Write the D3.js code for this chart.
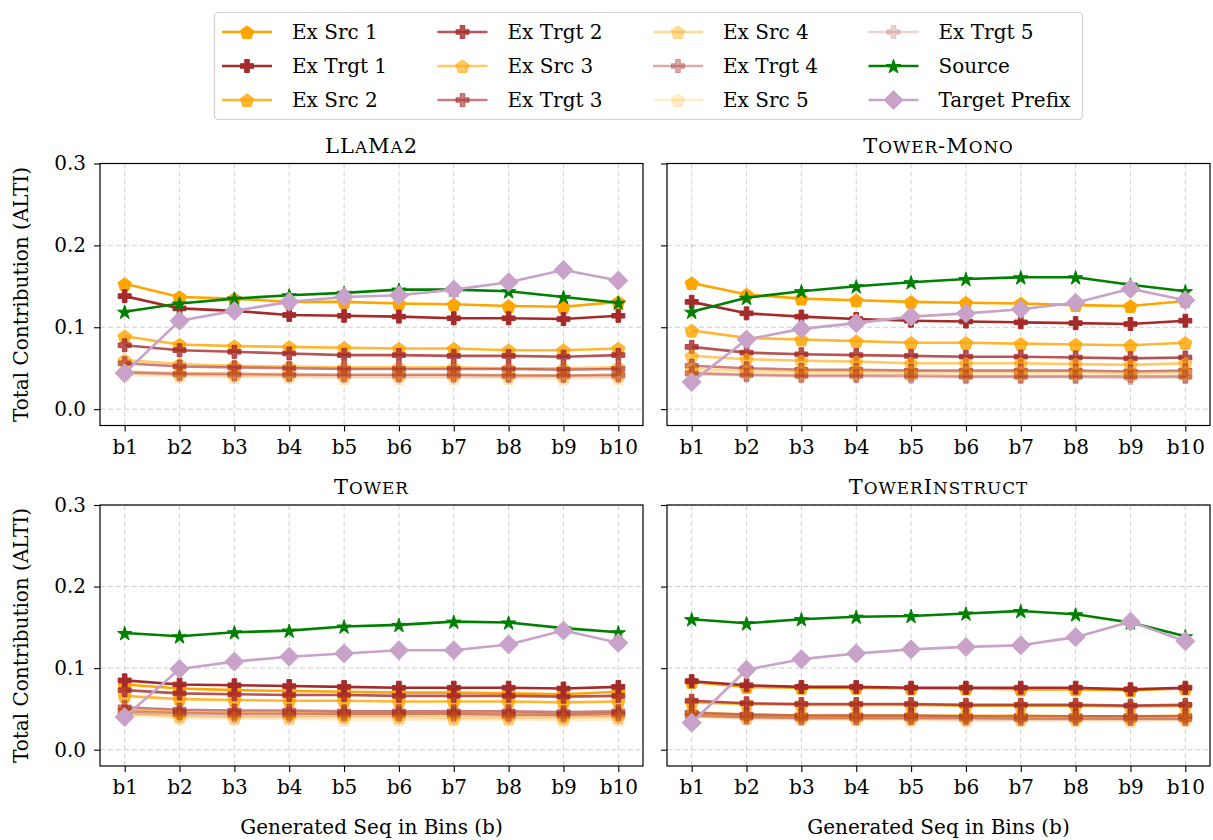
<!DOCTYPE html>
<html><head><meta charset="utf-8">
<script src="https://cdn.jsdelivr.net/npm/d3@7"></script>
<style>
html,body{margin:0;padding:0;background:#fff;}
svg text{font-family:"DejaVu Serif",serif;fill:#000;}
</style></head>
<body><svg id="c" width="1213" height="840"></svg>
<script>
const bins = ["b1","b2","b3","b4","b5","b6","b7","b8","b9","b10"];
const panelTitles = ["LLaMa2","Tower-Mono","Tower","TowerInstruct"];
const yTicks = [0.0, 0.1, 0.2, 0.3];
const seriesNames = ["Ex Src 1","Ex Trgt 1","Ex Src 2","Ex Trgt 2","Ex Src 3","Ex Trgt 3","Ex Src 4","Ex Trgt 4","Ex Src 5","Ex Trgt 5","Source","Target Prefix"];
// each array: [LLaMA2, Tower-Mono, Tower, TowerInstruct]
const exSrc1 = [
 [0.153,0.137,0.135,0.131,0.131,0.129,0.128,0.126,0.125,0.131],
 [0.154,0.140,0.135,0.133,0.131,0.130,0.129,0.127,0.126,0.132],
 [0.080,0.075,0.073,0.072,0.071,0.070,0.070,0.069,0.068,0.071],
 [0.083,0.077,0.076,0.076,0.075,0.075,0.074,0.074,0.073,0.075]];
const exTrgt1 = [
 [0.138,0.123,0.120,0.115,0.114,0.113,0.111,0.111,0.110,0.114],
 [0.131,0.117,0.113,0.110,0.108,0.107,0.106,0.105,0.104,0.108],
 [0.085,0.080,0.079,0.078,0.077,0.076,0.076,0.076,0.075,0.077],
 [0.084,0.079,0.077,0.077,0.076,0.076,0.076,0.076,0.074,0.076]];
const exSrc2 = [
 [0.089,0.079,0.077,0.076,0.075,0.074,0.074,0.072,0.072,0.074],
 [0.096,0.087,0.085,0.083,0.081,0.081,0.080,0.079,0.078,0.081],
 [0.066,0.062,0.061,0.060,0.060,0.059,0.059,0.059,0.058,0.059],
 [0.058,0.056,0.055,0.055,0.055,0.054,0.054,0.054,0.053,0.054]];
const exTrgt2 = [
 [0.078,0.072,0.070,0.068,0.066,0.066,0.065,0.065,0.064,0.066],
 [0.076,0.069,0.067,0.066,0.065,0.064,0.064,0.063,0.062,0.063],
 [0.073,0.069,0.068,0.067,0.067,0.066,0.066,0.066,0.065,0.066],
 [0.060,0.057,0.056,0.056,0.056,0.055,0.055,0.055,0.054,0.055]];
const exSrc3 = [
 [0.060,0.055,0.053,0.052,0.051,0.051,0.051,0.050,0.050,0.051],
 [0.065,0.061,0.059,0.058,0.056,0.056,0.056,0.055,0.054,0.056],
 [0.049,0.046,0.045,0.045,0.044,0.044,0.044,0.044,0.043,0.044],
 [0.046,0.043,0.042,0.042,0.042,0.042,0.042,0.041,0.041,0.042]];
const exTrgt3 = [
 [0.056,0.052,0.051,0.050,0.049,0.049,0.049,0.049,0.048,0.049],
 [0.053,0.050,0.048,0.048,0.047,0.047,0.047,0.047,0.046,0.047],
 [0.052,0.049,0.048,0.048,0.047,0.047,0.047,0.047,0.046,0.047],
 [0.045,0.043,0.042,0.042,0.042,0.041,0.041,0.041,0.041,0.041]];
const exSrc4 = [
 [0.046,0.044,0.043,0.043,0.042,0.042,0.042,0.042,0.041,0.042],
 [0.049,0.047,0.046,0.046,0.045,0.045,0.045,0.045,0.044,0.045],
 [0.044,0.041,0.040,0.040,0.040,0.040,0.039,0.039,0.039,0.040],
 [0.043,0.040,0.040,0.039,0.039,0.039,0.039,0.039,0.038,0.039]];
const exTrgt4 = [
 [0.045,0.043,0.043,0.042,0.042,0.042,0.042,0.041,0.041,0.042],
 [0.044,0.042,0.041,0.041,0.041,0.040,0.040,0.040,0.040,0.040],
 [0.047,0.045,0.044,0.044,0.044,0.044,0.044,0.043,0.043,0.044],
 [0.042,0.040,0.039,0.039,0.039,0.039,0.038,0.038,0.038,0.038]];
const exSrc5 = [
 [0.042,0.040,0.039,0.039,0.038,0.038,0.038,0.038,0.037,0.038],
 [0.046,0.044,0.043,0.043,0.042,0.042,0.042,0.042,0.041,0.042],
 [0.043,0.039,0.038,0.038,0.037,0.037,0.037,0.037,0.036,0.037],
 [0.040,0.038,0.037,0.037,0.036,0.036,0.036,0.036,0.035,0.036]];
const exTrgt5 = [
 [0.044,0.042,0.041,0.041,0.040,0.040,0.040,0.040,0.040,0.040],
 [0.043,0.041,0.040,0.040,0.039,0.039,0.039,0.039,0.038,0.039],
 [0.045,0.043,0.042,0.042,0.042,0.042,0.042,0.041,0.041,0.042],
 [0.041,0.039,0.038,0.038,0.038,0.037,0.037,0.037,0.037,0.037]];
const source = [
 [0.119,0.129,0.135,0.139,0.142,0.146,0.146,0.144,0.137,0.130],
 [0.119,0.136,0.144,0.150,0.155,0.159,0.161,0.161,0.152,0.144],
 [0.143,0.139,0.144,0.146,0.151,0.153,0.157,0.156,0.149,0.144],
 [0.160,0.155,0.160,0.163,0.164,0.167,0.170,0.166,0.156,0.139]];
const targetPrefix = [
 [0.044,0.108,0.120,0.131,0.137,0.139,0.146,0.155,0.170,0.157],
 [0.033,0.085,0.098,0.105,0.113,0.117,0.122,0.130,0.147,0.133],
 [0.040,0.099,0.108,0.114,0.118,0.122,0.122,0.129,0.146,0.131],
 [0.033,0.098,0.111,0.118,0.123,0.126,0.128,0.138,0.157,0.133]];

const seriesData = [exSrc1,exTrgt1,exSrc2,exTrgt2,exSrc3,exTrgt3,exSrc4,exTrgt4,exSrc5,exTrgt5,source,targetPrefix];
const ORANGE="#ffa500", BROWN="#a52a2a", GREEN="#008000", LILAC="#c8a2c8";
const alphas=[1,0.8,0.6,0.4,0.2];
const styles = seriesNames.map((n,i)=>{
  if(i<10){const k=Math.floor(i/2);const src=i%2===0;
    return {color:src?ORANGE:BROWN, alpha:alphas[k], marker:src?"pentagon":"plus"};}
  if(i===10) return {color:GREEN,alpha:1,marker:"star"};
  return {color:LILAC,alpha:1,marker:"diamond"};
});

function markerPath(type){
  if(type==="pentagon"){const r=7;const pts=d3.range(5).map(k=>{const a=-Math.PI/2+k*2*Math.PI/5;return [r*Math.cos(a),r*Math.sin(a)+0.8];});
    return "M"+pts.map(p=>p.join(",")).join("L")+"Z";}
  if(type==="plus"){const a=6.5,b=2.3;
    return `M${-b},${-a}L${b},${-a}L${b},${-b}L${a},${-b}L${a},${b}L${b},${b}L${b},${a}L${-b},${a}L${-b},${b}L${-a},${b}L${-a},${-b}L${-b},${-b}Z`;}
  if(type==="star"){const R=7.5,r=R*0.382;const pts=d3.range(10).map(k=>{const a=-Math.PI/2+k*Math.PI/5;const rr=k%2?r:R;return [rr*Math.cos(a),rr*Math.sin(a)+0.8];});
    return "M"+pts.map(p=>p.join(",")).join("L")+"Z";}
  const d=9.5; return `M0,${-d}L${d},0L0,${d}L${-d},0Z`;
}

// manual small caps: group consecutive chars by case
function smallCaps(textSel, str, big, small){
  const runs=[];
  for(const ch of str){
    const low = ch!==ch.toUpperCase();
    if(runs.length && runs[runs.length-1].low===low) runs[runs.length-1].s+=ch;
    else runs.push({low, s:ch});
  }
  runs.forEach(r=>textSel.append("tspan").attr("font-size",r.low?small:big).text(r.s.toUpperCase()));
}

const svg=d3.select("#c");
const cols=[[100,643],[667,1210]];
const rows=[[425.5,163.5],[766,505]];
const FS=20;
const FONT="DejaVu Serif";

[0,1,2,3].forEach(p=>{
  const c=cols[p%2], r=rows[Math.floor(p/2)];
  const x=d3.scaleLinear().domain([-0.45,9.45]).range(c);
  const y=d3.scaleLinear().domain([-0.02,0.3]).range(r);
  const g=svg.append("g");
  g.append("g").selectAll("line").data(d3.range(10)).join("line")
    .attr("x1",d=>x(d)).attr("x2",d=>x(d)).attr("y1",r[1]).attr("y2",r[0])
    .attr("stroke","#b0b0b0").attr("stroke-opacity",0.6).attr("stroke-width",1).attr("stroke-dasharray","5,3");
  g.append("g").selectAll("line").data(yTicks).join("line")
    .attr("x1",c[0]).attr("x2",c[1]).attr("y1",d=>y(d)).attr("y2",d=>y(d))
    .attr("stroke","#b0b0b0").attr("stroke-opacity",0.6).attr("stroke-width",1).attr("stroke-dasharray","5,3");
  const xa=g.append("g").attr("transform",`translate(0,${r[0]})`)
    .call(d3.axisBottom(x).tickValues(d3.range(10)).tickFormat(i=>bins[i]).tickSize(6).tickPadding(8));
  const ya=g.append("g").attr("transform",`translate(${c[0]},0)`)
    .call(d3.axisLeft(y).tickValues(yTicks).tickFormat(p%2===0?d3.format(".1f"):()=>"").tickSize(6).tickPadding(8));
  [xa,ya].forEach(a=>{a.select(".domain").remove();a.selectAll("line").attr("stroke","#000").attr("stroke-width",1.1);
    a.selectAll("text").attr("font-size",FS).attr("font-family",FONT);});
  xa.selectAll("text").attr("dy","0.72em");
  const clip="clip"+p;
  svg.append("clipPath").attr("id",clip).append("rect").attr("x",c[0]).attr("y",r[1]).attr("width",c[1]-c[0]).attr("height",r[0]-r[1]);
  const pg=g.append("g").attr("clip-path",`url(#${clip})`);
  const line=d3.line().x((d,i)=>x(i)).y(d=>y(d));
  seriesData.forEach((arr,si)=>{
    const st=styles[si], vals=arr[p];
    pg.append("path").attr("d",line(vals)).attr("fill","none").attr("stroke",st.color)
      .attr("stroke-opacity",st.alpha).attr("stroke-width",2.6).attr("stroke-linejoin","round");
    pg.append("g").selectAll("path").data(vals).join("path")
      .attr("transform",(d,i)=>`translate(${x(i)},${y(d)})`).attr("d",markerPath(st.marker))
      .attr("fill",st.color).attr("fill-opacity",st.alpha).attr("stroke",st.color).attr("stroke-opacity",st.alpha).attr("stroke-width",1);
  });
  g.append("rect").attr("x",c[0]).attr("y",r[1]).attr("width",c[1]-c[0]).attr("height",r[0]-r[1])
    .attr("fill","none").attr("stroke","#000").attr("stroke-width",1.2);
  const t=g.append("text").attr("x",(c[0]+c[1])/2).attr("y",r[1]-11).attr("text-anchor","middle")
    .attr("letter-spacing",1);
  smallCaps(t, panelTitles[p], 21, 16.8);
  if(p%2===0){
    g.append("text").attr("transform",`translate(28,${(r[0]+r[1])/2}) rotate(-90)`).attr("text-anchor","middle")
      .attr("font-size",FS).text("Total Contribution (ALTI)");
  }
  if(p>=2){
    g.append("text").attr("x",(c[0]+c[1])/2).attr("y",834).attr("text-anchor","middle")
      .attr("font-size",FS).text("Generated Seq in Bins (b)");
  }
});

const lg=svg.append("g");
lg.append("rect").attr("x",214.5).attr("y",12.5).attr("width",868).attr("height",107).attr("rx",4)
  .attr("fill","#fff").attr("fill-opacity",0.8).attr("stroke","#d0d0d0").attr("stroke-width",1.2);
seriesNames.forEach((n,i)=>{
  const col=Math.floor(i/3), row=i%3;
  const x0=222+col*215.5, yc=32+row*34;
  const st=styles[i];
  lg.append("line").attr("x1",x0).attr("x2",x0+50).attr("y1",yc).attr("y2",yc)
    .attr("stroke",st.color).attr("stroke-opacity",st.alpha).attr("stroke-width",2.6);
  lg.append("path").attr("transform",`translate(${x0+25},${yc})`).attr("d",markerPath(st.marker))
    .attr("fill",st.color).attr("fill-opacity",st.alpha).attr("stroke",st.color).attr("stroke-opacity",st.alpha);
  lg.append("text").attr("x",x0+70).attr("y",yc+7).attr("font-size",FS).text(n);
});
</script></body></html>
